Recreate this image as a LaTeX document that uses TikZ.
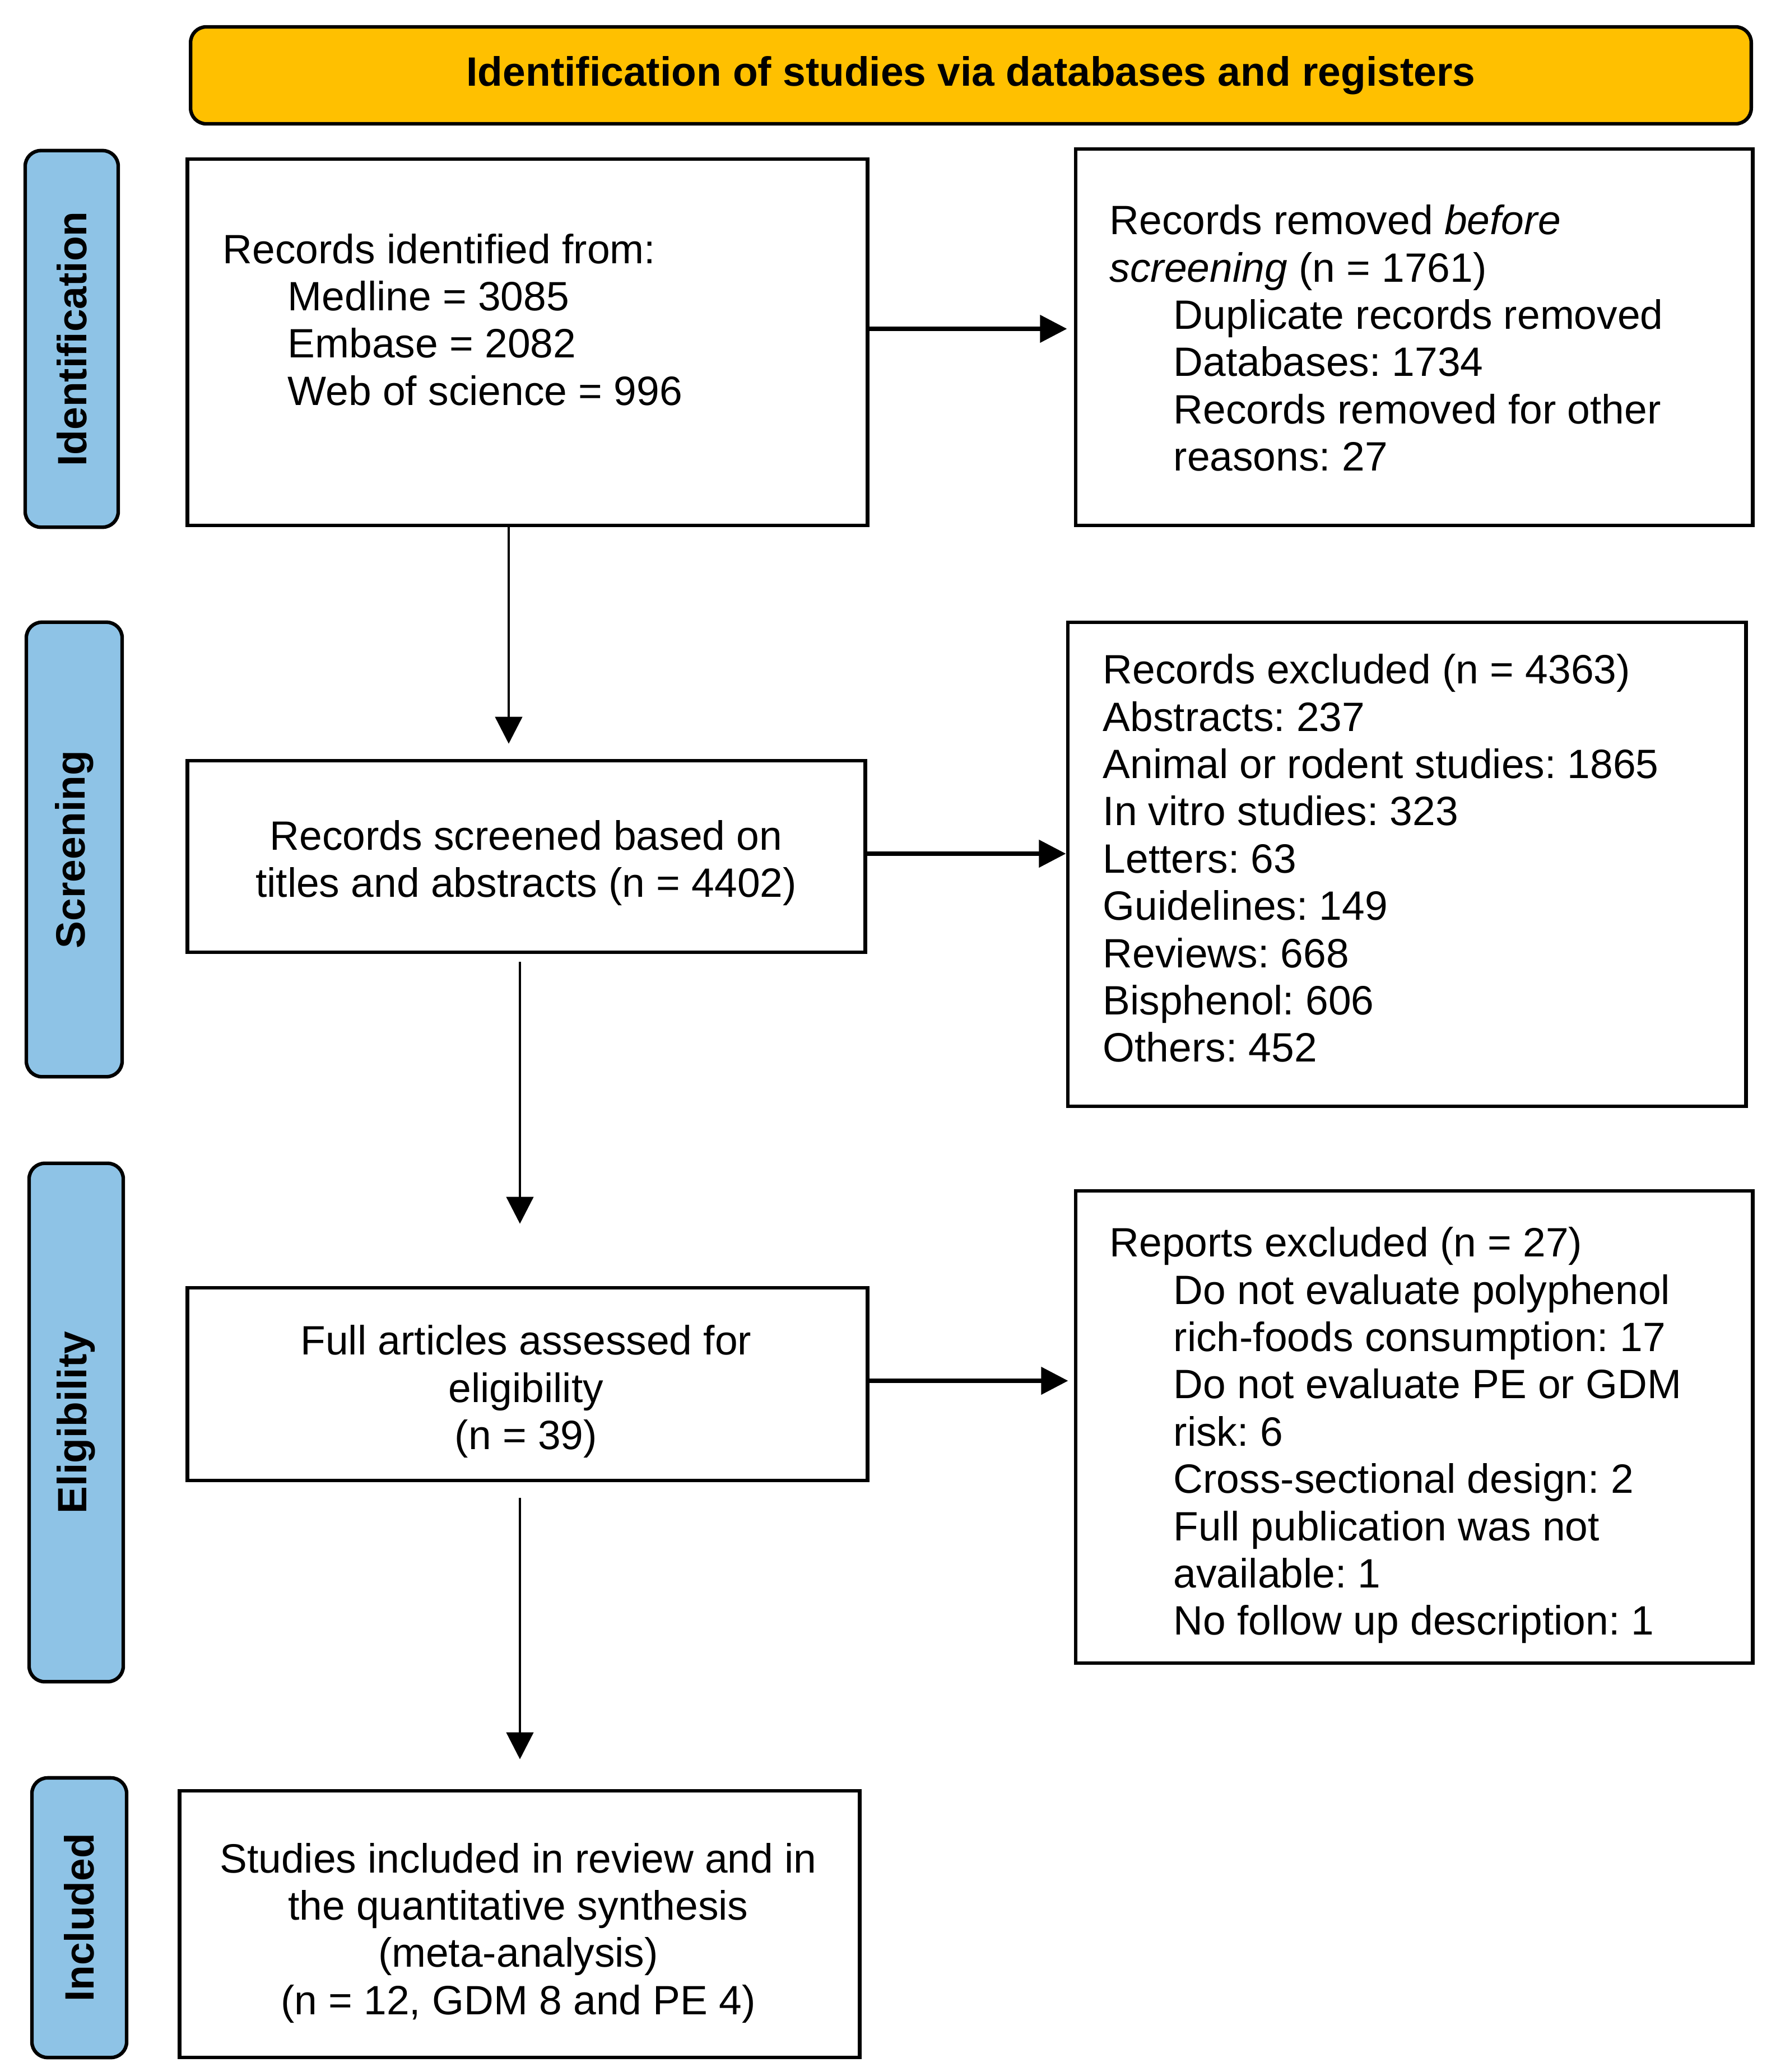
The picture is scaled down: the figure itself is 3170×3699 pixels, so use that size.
\documentclass[tikz,border=0pt]{standalone}
\usepackage{fontspec}
\setmainfont{Liberation Sans}
\usetikzlibrary{arrows.meta,calc}
\definecolor{ybar}{RGB}{255,192,0}
\definecolor{sideblue}{RGB}{142,195,230}
\newcommand\lnst{\rule[-4.55pt]{0pt}{24pt}}
\frenchspacing
\begin{document}
\begin{tikzpicture}[x=0.01cm,y=-0.01cm,
  box/.style={draw, line width=1.8pt, fill=white, inner sep=0pt, rectangle},
  banner/.style={draw, line width=1.8pt, fill=ybar, rounded corners=0.28cm, inner sep=0pt, font=\fontsize{20.8}{24}\selectfont\bfseries},
  side/.style={draw, line width=1.8pt, fill=sideblue, rounded corners=0.28cm, inner sep=0pt, rotate=90, font=\fontsize{20.8}{24}\selectfont\bfseries},
  txt/.style={inner sep=0pt, font=\fontsize{20.8}{24}\selectfont\frenchspacing},
  txtl/.style={txt, align=left, anchor=west},
  txtc/.style={txt, align=center, anchor=center},
  harrow/.style={line width=2.1pt, -{Triangle[length=0.48cm,width=0.48cm]}},
  varrow/.style={line width=1.3pt, -{Triangle[length=0.48cm,width=0.48cm]}},
]
\useasboundingbox (0,0) rectangle (3170,3699);
\fill[white] (0,0) rectangle (3170,3699);

% banner
\node[banner, minimum width=27.84cm, minimum height=1.73cm] (title) at (1733,134.5) {Identification of studies via databases and registers};

% side labels
\node[side, minimum width=6.72cm, minimum height=1.66cm] (sid) at (128,605) {Identification};
\node[side, minimum width=8.11cm, minimum height=1.71cm] (sscr) at (132.5,1516.5) {Screening};
\node[side, minimum width=9.25cm, minimum height=1.68cm] (selg) at (136,2539.5) {Eligibility};
\node[side, minimum width=4.99cm, minimum height=1.69cm] (sinc) at (141.5,3423.5) {Included};

% boxes
\node[box, minimum width=12.13cm, minimum height=6.54cm] (b1) at (941.5,611) {};
\node[box, minimum width=12.08cm, minimum height=6.72cm] (r1) at (2524,602) {};
\node[box, minimum width=12.09cm, minimum height=3.42cm] (b2) at (939.5,1529) {};
\node[box, minimum width=12.10cm, minimum height=8.64cm] (r2) at (2511,1543) {};
\node[box, minimum width=12.13cm, minimum height=3.44cm] (b3) at (941.5,2471) {};
\node[box, minimum width=12.08cm, minimum height=8.43cm] (r3) at (2524,2547.5) {};
\node[box, minimum width=12.13cm, minimum height=4.76cm] (b4) at (927.5,3435) {};

% texts
\node[txtl] (t1) at (397,570.5) {\lnst Records identified from:\\
\hspace*{33pt}Medline = 3085\\
\hspace*{33pt}Embase = 2082\\
\hspace*{33pt}Web of science = 996\lnst};

\node[txtl] (t1r) at (1980,603.5) {\lnst Records removed \textit{before}\\
\textit{screening} (n = 1761)\\
\hspace*{32.4pt}Duplicate records removed\\
\hspace*{32.4pt}Databases: 1734\\
\hspace*{32.4pt}Records removed for other\\
\hspace*{32.4pt}reasons: 27\lnst};

\node[txtc] (t2) at (939,1533) {\lnst Records screened based on\\
titles and abstracts (n = 4402)\lnst};

\node[txtl] (t2r) at (1968,1532) {\lnst Records excluded (n = 4363)\\
Abstracts: 237\\
Animal or rodent studies: 1865\\
In vitro studies: 323\\
Letters: 63\\
Guidelines: 149\\
Reviews: 668\\
Bisphenol: 606\\
Others: 452\lnst};

\node[txtc] (t3) at (939,2477) {\lnst Full articles assessed for\\
eligibility\\
(n = 39)\lnst};

\node[txtl] (t3r) at (1980,2555) {\lnst Reports excluded (n = 27)\\
\hspace*{32.4pt}Do not evaluate polyphenol\\
\hspace*{32.4pt}rich-foods consumption: 17\\
\hspace*{32.4pt}Do not evaluate PE or GDM\\
\hspace*{32.4pt}risk: 6\\
\hspace*{32.4pt}Cross-sectional design: 2\\
\hspace*{32.4pt}Full publication was not\\
\hspace*{32.4pt}available: 1\\
\hspace*{32.4pt}No follow up description: 1\lnst};

\node[txtc] (t4) at (925,3443.5) {\lnst Studies included in review and in\\
the quantitative synthesis\\
(meta-analysis)\\
(n = 12, GDM 8 and PE 4)\lnst};

% connectors
\coordinate (h1) at (0,587);
\coordinate (h2) at (0,1524);
\coordinate (h3) at (0,2465);
\coordinate (v1) at (908,0);
\coordinate (v2) at (928,0);

\draw[harrow, shorten >=0.12cm] (b1.east |- h1) -- (r1.west |- h1);
\draw[harrow] (b2.east |- h2) -- (r2.west |- h2);
\draw[harrow, shorten >=0.1cm] (b3.east |- h3) -- (r3.west |- h3);

\draw[varrow, shorten >=0.27cm] (b1.south -| v1) -- (b2.north -| v1);
\draw[varrow, shorten <=0.14cm, shorten >=1.11cm] (b2.south -| v2) -- (b3.north -| v2);
\draw[varrow, shorten <=0.28cm, shorten >=0.53cm] (b3.south -| v2) -- (b4.north -| v2);
\end{tikzpicture}
\end{document}
